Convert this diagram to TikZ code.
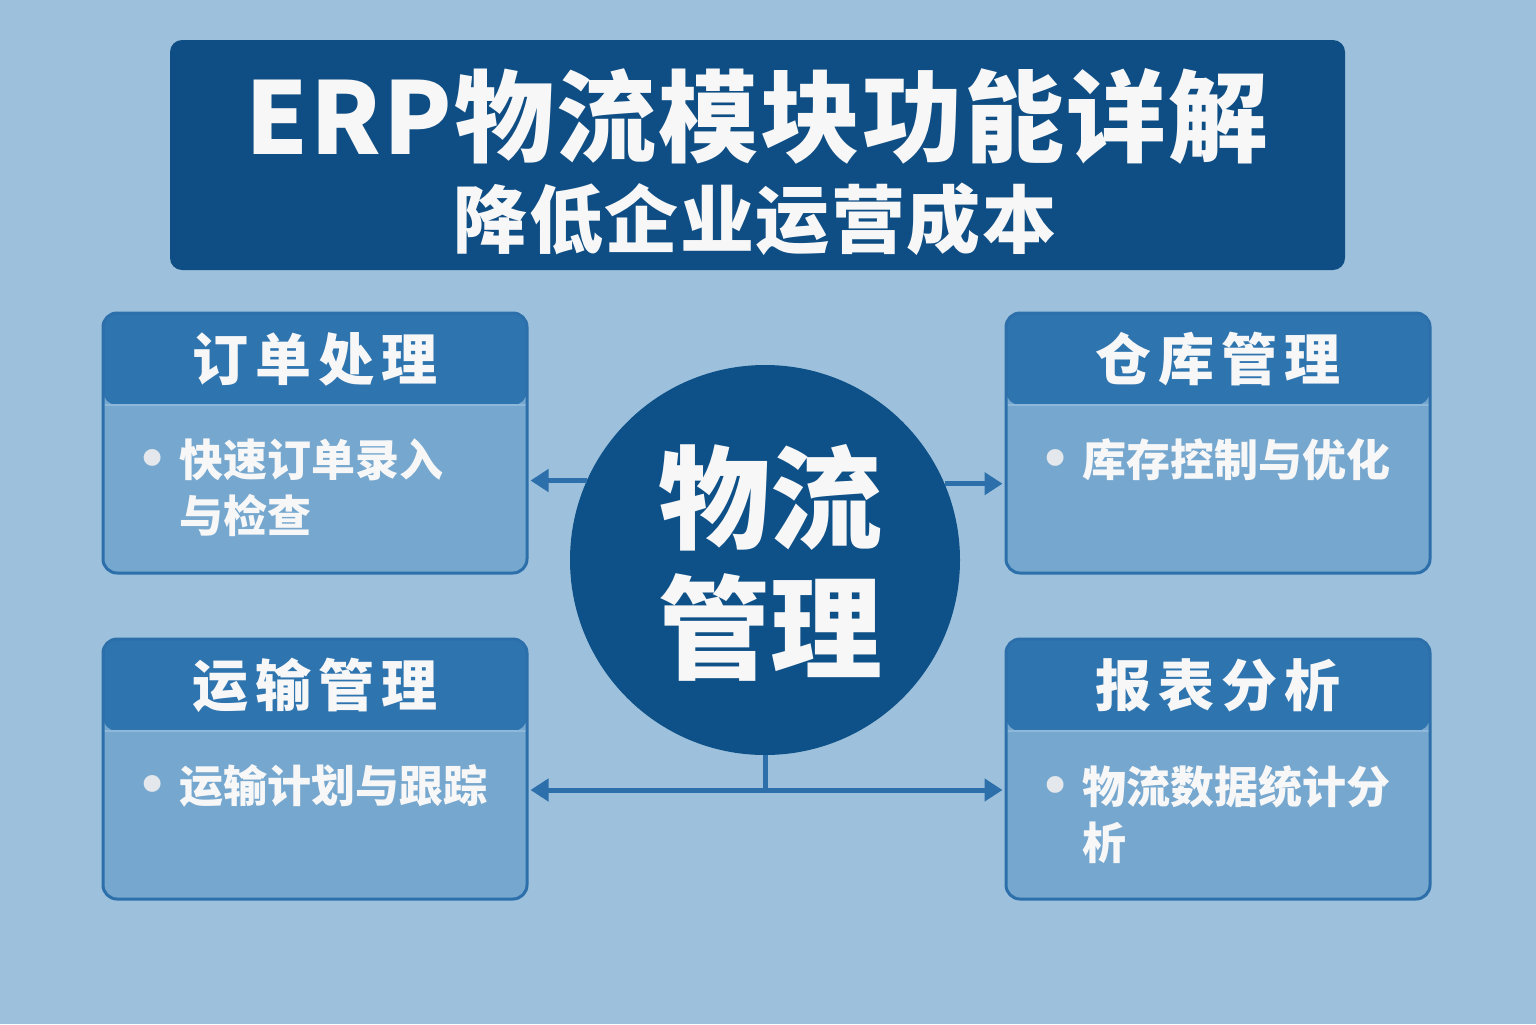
\documentclass[tikz,border=0pt]{standalone}
\usepackage{fontspec}
\usetikzlibrary{arrows.meta}
\setmainfont{Noto Sans CJK SC}
\newfontfamily\hdfont[LetterSpace=12]{Noto Sans CJK SC}
\newfontfamily\ttlfont[LetterSpace=2]{Noto Sans CJK SC}
\newfontfamily\bulfont{DejaVu Sans}
\definecolor{bgc}{HTML}{9DC1DC}
\definecolor{titlec}{HTML}{0F4E84}
\definecolor{hdrc}{HTML}{2E74AF}
\definecolor{bodyc}{HTML}{76A7CE}
\definecolor{bordc}{HTML}{2C6FAA}
\definecolor{sepc}{HTML}{8DB8DA}
\definecolor{circc}{HTML}{0E5088}
\definecolor{arrc}{HTML}{2C6FAA}
\definecolor{txtc}{HTML}{F7F7F7}
\definecolor{bulc}{HTML}{E4E8EC}
\tikzset{
  box/.style={draw=bordc, line width=1.5pt, fill=bodyc, rounded corners=7pt,
    minimum width=212pt, minimum height=130pt, inner sep=0pt,
    path picture={
      \fill[hdrc] ([yshift=2pt]path picture bounding box.north west) rectangle ([yshift=-46pt]path picture bounding box.north east);
      \draw[sepc, line width=0.8pt] ([yshift=-46pt]path picture bounding box.north west) -- ([yshift=-46pt]path picture bounding box.north east);
    }},
  hd/.style={text=txtc, font=\hdfont\bfseries\fontsize{28}{30}\selectfont, inner sep=0pt},
  bodytxt/.style={text=txtc, font=\bfseries\fontsize{22}{28}\selectfont, align=left, inner sep=0pt, anchor=north west},
  arr/.style={draw=arrc, line width=2.5pt, -{Triangle[length=9pt,width=11pt]}},
  dblarr/.style={draw=arrc, line width=2.5pt, {Triangle[length=9pt,width=11pt]}-{Triangle[length=9pt,width=11pt]}},
  plain/.style={draw=arrc, line width=2.5pt},
}
\newcommand{\bul}{\makebox[22pt][l]{\raisebox{-1.5pt}{\textcolor{bulc}{\bulfont\mdseries\fontsize{29}{28}\selectfont •}}}}
\begin{document}
\begin{tikzpicture}[x=0.5pt,y=-0.5pt]
\fill[bgc] (0,0) rectangle (1536,1024);
\useasboundingbox (0,0) rectangle (1536,1024);

% title
\node[fill=titlec, rounded corners=6pt, minimum width=587.5pt, minimum height=115pt, inner sep=0pt] (title) at (757.5,155) {};
\node[text=txtc, font=\ttlfont\bfseries\fontsize{50}{55}\selectfont, inner sep=0pt] (t1) at (757,116) {ERP物流模块功能详解};
\node[text=txtc, font=\ttlfont\bfseries\fontsize{37}{42}\selectfont, inner sep=0pt] (t2) at (755,219) {降低企业运营成本};

% hub
\node[circle, fill=circc, minimum size=195pt, inner sep=0pt] (hub) at (765,560) {};
\node[text=txtc, align=center, inner sep=0pt,
      font=\bfseries\fontsize{56}{65}\selectfont] (hubtxt) at (770,563) {物流\\管理};

% boxes
\node[box] (b1) at (315,443) {};
\node[box] (b2) at (1218,443) {};
\node[box] (b3) at (315,769) {};
\node[box] (b4) at (1218,769) {};

\node[hd] (h1) at ([yshift=-24pt]b1.north) {订单处理};
\node[hd] (h2) at ([yshift=-24pt]b2.north) {仓库管理};
\node[hd] (h3) at ([yshift=-24pt]b3.north) {运输管理};
\node[hd] (h4) at ([yshift=-24pt]b4.north) {报表分析};

\node[bodytxt] (x1) at ([xshift=17pt,yshift=-63.5pt]b1.north west) {\bul 快速订单录入\\\hspace*{22pt}与检查};
\node[bodytxt] (x2) at ([xshift=17pt,yshift=-63.5pt]b2.north west) {\bul 库存控制与优化};
\node[bodytxt] (x3) at ([xshift=17pt,yshift=-63.5pt]b3.north west) {\bul 运输计划与跟踪};
\node[bodytxt] (x4) at ([xshift=17pt,yshift=-63.5pt]b4.north west) {\bul 物流数据统计分\\\hspace*{22pt}析};

% connectors
\draw[arr, shorten >=1pt] (hub.156.4) -- (b1.east |- hub.156.4);
\draw[arr, shorten >=1pt] (hub.23.6) -- (b2.west |- hub.23.6);
\coordinate (j) at (765,790);
\draw[plain] (hub.south) -- (j);
\draw[dblarr, shorten >=1pt, shorten <=1pt] (b3.east |- j) -- (b4.west |- j);
\end{tikzpicture}
\end{document}
